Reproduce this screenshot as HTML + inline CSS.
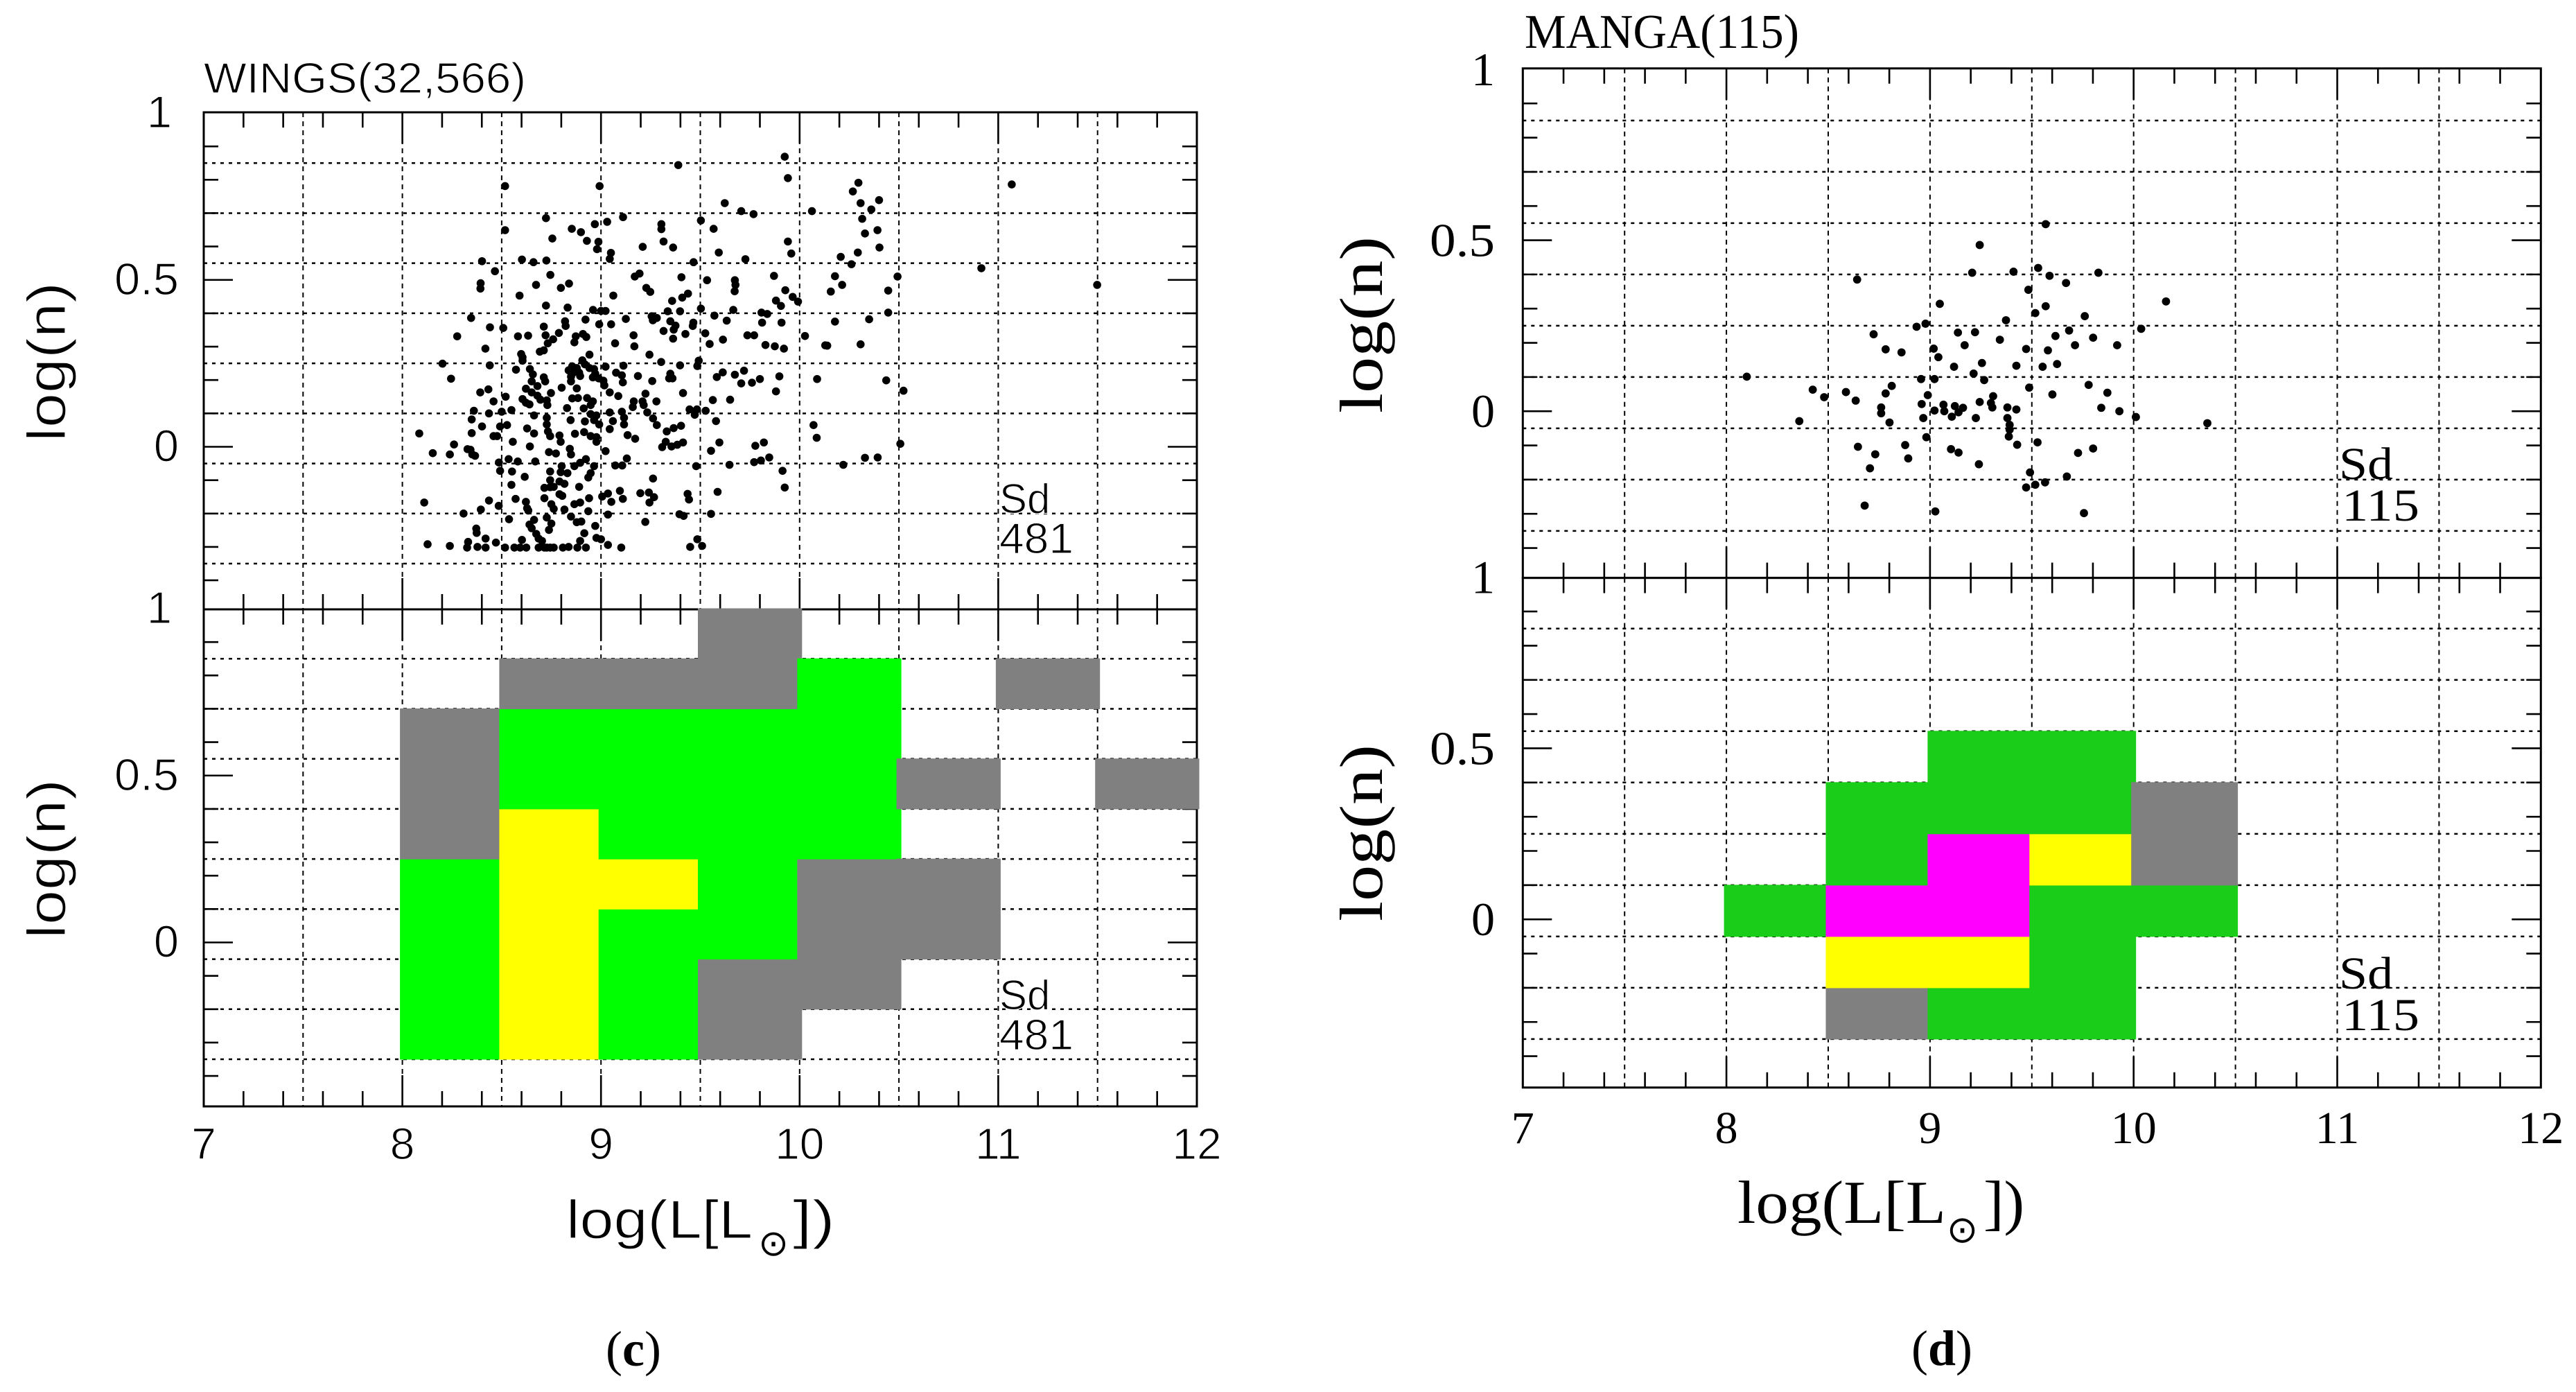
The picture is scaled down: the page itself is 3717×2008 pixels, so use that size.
<!DOCTYPE html>
<html lang="en">
<head>
<meta charset="utf-8">
<title>WINGS and MANGA log(n) vs log(L)</title>
<style>
html,body{margin:0;padding:0;background:#fff;}
svg{display:block;}
.sans{font-family:"Liberation Sans",sans-serif;fill:#000;stroke:#fff;stroke-width:1.2px;paint-order:normal;}
.serif{font-family:"Liberation Serif",serif;fill:#000;}
.sun{font-family:"DejaVu Sans",sans-serif;fill:#000;}
</style>
</head>
<body>
<svg id="figure" xmlns="http://www.w3.org/2000/svg" width="3717" height="2008" viewBox="0 0 3717 2008">
<rect x="0" y="0" width="3717" height="2008" fill="#fff"/>
<g id="marks"></g>

<text class="sans" x="294" y="134" font-size="62" textLength="465" lengthAdjust="spacingAndGlyphs">WINGS(32,566)</text>
<text class="sans" transform="translate(94,637) rotate(-90)" font-size="78" textLength="230" lengthAdjust="spacingAndGlyphs">log(n)</text>
<text class="sans" transform="translate(94,1354) rotate(-90)" font-size="78" textLength="230" lengthAdjust="spacingAndGlyphs">log(n)</text>
<text class="sans" x="1442" y="740" font-size="60">Sd</text>
<text class="sans" x="1442" y="798" font-size="62" textLength="107" lengthAdjust="spacingAndGlyphs">481</text>
<text class="sans" x="1442" y="1456" font-size="60">Sd</text>
<text class="sans" x="1442" y="1514" font-size="62" textLength="107" lengthAdjust="spacingAndGlyphs">481</text>
<g>
<text class="sans" x="817" y="1786" font-size="78" textLength="269" lengthAdjust="spacingAndGlyphs">log(L[L</text>
<text class="sun" x="1116" y="1811" font-size="52" text-anchor="middle">⊙</text>
<text class="sans" x="1144" y="1786" font-size="78" textLength="61" lengthAdjust="spacingAndGlyphs">])</text>
</g>

<text class="serif" x="2200" y="69" font-size="70" textLength="396" lengthAdjust="spacingAndGlyphs">MANGA(115)</text>
<text class="serif" transform="translate(1994,596) rotate(-90)" font-size="88" textLength="255" lengthAdjust="spacingAndGlyphs">log(n)</text>
<text class="serif" transform="translate(1994,1329) rotate(-90)" font-size="88" textLength="255" lengthAdjust="spacingAndGlyphs">log(n)</text>
<text class="serif" x="3375" y="691" font-size="66" textLength="78" lengthAdjust="spacingAndGlyphs">Sd</text>
<text class="serif" x="3379" y="751" font-size="66" textLength="112" lengthAdjust="spacingAndGlyphs">115</text>
<text class="serif" x="3375" y="1426" font-size="66" textLength="78" lengthAdjust="spacingAndGlyphs">Sd</text>
<text class="serif" x="3379" y="1486" font-size="66" textLength="112" lengthAdjust="spacingAndGlyphs">115</text>
<g>
<text class="serif" x="2507" y="1764" font-size="88" textLength="301" lengthAdjust="spacingAndGlyphs">log(L[L</text>
<text class="sun" x="2831.5" y="1792" font-size="54" text-anchor="middle">⊙</text>
<text class="serif" x="2862" y="1764" font-size="88" textLength="59" lengthAdjust="spacingAndGlyphs">])</text>
</g>

<text class="serif" x="874" y="1970" font-size="72">(<tspan font-weight="bold">c</tspan>)</text>
<text class="serif" x="2758" y="1969" font-size="72">(<tspan font-weight="bold">d</tspan>)</text>
</svg>

<script>
const xTickLabels = ['7', '8', '9', '10', '11', '12'];
const yTickLabels = ['1', '0.5', '0'];
const gridRowEdges = [0.85, 0.7, 0.55, 0.4, 0.25, 0.1, -0.05, -0.2, -0.35];
const gridColumnEdges = [7.5, 8, 8.5, 9, 9.5, 10, 10.5, 11, 11.5];

const wingsPoints = [
[8.517,.781],[8.993,.781],[9.389,.844],[9.925,.869],[9.941,.805],[9.623,.73],[9.706,.706],[9.768,.697],[10.062,.706],[8.723,.685],
[9.031,.674],[8.969,.667],[9.111,.688],[8.853,.653],[8.899,.643],[8.517,.649],[8.755,.624],[9.304,.667],[9.304,.652],[9.503,.678],
[9.567,.653],[8.929,.617],[8.987,.614],[8.98,.592],[9.315,.615],[9.21,.599],[9.363,.597],[9.941,.615],[9.958,.579],[9.593,.582],
[9.05,.581],[9.044,.563],[8.401,.556],[8.602,.561],[8.66,.553],[8.725,.558],[9.466,.553],[9.727,.562],[8.466,.526],[8.745,.515],
[9.194,.519],[9.17,.51],[9.405,.508],[9.534,.499],[9.674,.499],[9.871,.512],[9.677,.485],[8.394,.49],[8.393,.474],[8.839,.489],
[8.673,.485],[8.798,.476],[9.228,.476],[9.248,.464],[9.673,.466],[9.928,.469],[9.438,.459],[9.409,.447],[8.59,.453],[9.062,.453],
[9.965,.449],[9.992,.435],[9.881,.438],[9.358,.437],[10.157,.465],[8.723,.423],[8.832,.417],[9.906,.422],[9.503,.414],[9.666,.41],
[8.96,.41],[9.0,.407],[9.023,.407],[9.336,.406],[9.398,.406],[9.808,.402],[9.837,.398],[9.571,.393],[8.346,.386],[9.255,.391],
[9.281,.386],[9.261,.379],[9.125,.383],[9.633,.378],[8.922,.381],[8.819,.376],[9.349,.376],[9.465,.372],[9.811,.372],[9.909,.372],
[8.991,.367],[9.051,.367],[9.375,.363],[9.462,.362],[8.441,.358],[8.508,.356],[8.712,.36],[8.822,.362],[9.366,.351],[9.315,.347],
[9.425,.338],[9.525,.34],[8.909,.338],[8.788,.341],[8.276,.331],[8.582,.331],[8.633,.333],[8.721,.334],[8.873,.331],[8.926,.329],
[9.164,.334],[9.737,.334],[9.771,.334],[10.027,.332],[8.759,.322],[8.866,.313],[8.732,.31],[9.071,.31],[9.363,.324],[9.614,.321],
[9.168,.301],[9.547,.308],[9.828,.305],[9.875,.301],[9.921,.294],[10.139,.303],[8.418,.294],[8.712,.289],[8.692,.285],[9.244,.276],
[8.598,.278],[8.605,.268],[8.942,.276],[8.605,.258],[8.906,.259],[8.202,.249],[8.44,.244],[9.303,.254],[9.398,.244],[9.492,.258],
[9.485,.242],[9.613,.223],[9.583,.209],[9.72,.228],[9.674,.216],[9.898,.211],[9.8,.203],[9.76,.192],[9.706,.19],[10.088,.203],
[9.881,.166],[9.563,.14],[9.65,.141],[9.446,.112],[9.483,.112],[9.472,.096],[9.527,.108],[9.579,.077],[10.07,.065],[10.086,.027],
[9.596,.013],[9.554,-.012],[9.82,.013],[9.777,.003],[9.847,-.032],[9.805,-.041],[9.771,-.046],[9.479,-.058],[9.647,-.054],[9.914,-.072],
[9.925,-.122],[9.587,-.135],[9.554,-.201],[9.395,-.202],[9.416,-.207],[9.485,-.277],[9.449,-.3],[9.509,-.297],[9.436,-.141],[9.443,-.158],
[11.068,.786],[10.915,.535],[11.498,.485],[10.523,.168],[10.436,.199],[10.507,.009],[10.393,-.032],[10.329,-.033],[10.22,-.054],[10.493,.51],
[10.446,.468],[10.446,.402],[10.35,.382],[10.307,.307],[10.178,.375],[10.129,.304],[10.207,.569],[10.261,.547],[10.293,.582],[10.178,.511],
[10.214,.485],[10.402,.597],[10.392,.649],[10.329,.639],[10.315,.683],[10.361,.711],[10.4,.739],[10.307,.73],[10.268,.765],[10.296,.791],
[8.085,.04],[8.153,-.019],[8.239,-.023],[8.26,.007],[8.328,-.007],[8.352,-.023],[8.11,-.167],[8.127,-.292],[8.239,-.297],[8.245,.204],
[8.837,.229],[8.855,.241],[8.878,.236],[8.86,.222],[8.89,.222],[8.849,.21],[8.895,.212],[8.849,.196],[8.919,.247],[8.942,.236],
[8.965,.233],[8.971,.219],[8.959,.208],[8.988,.205],[9.012,.198],[9.017,.184],[9.023,.24],[9.044,.163],[9.087,.152],[9.076,.222],
[9.105,.214],[9.11,.193],[9.113,.243],[9.186,.212],[9.258,.197],[9.349,.219],[9.343,.205],[9.36,.205],[9.413,.161],[9.279,.136],
[9.224,.159],[9.209,.136],[9.215,.125],[9.165,.136],[9.16,.119],[8.572,.231],[8.642,.233],[8.657,.217],[8.712,.208],[8.719,.196],
[8.651,.196],[8.68,.182],[8.622,.174],[8.651,.163],[8.68,.153],[8.695,.141],[8.727,.139],[8.748,.161],[8.605,.143],[8.622,.132],
[8.64,.127],[8.73,.125],[8.802,.177],[8.878,.175],[8.52,.15],[8.459,.136],[8.392,.163],[8.433,.172],[8.855,.145],[8.884,.146],
[8.93,.146],[8.959,.136],[8.913,.115],[8.948,.125],[8.829,.116],[8.36,.108],[8.349,.082],[8.436,.1],[8.5,.105],[8.549,.11],
[8.663,.094],[8.401,.061],[8.492,.061],[8.527,.065],[8.349,.041],[8.477,.032],[8.459,.032],[8.556,.015],[8.628,.055],[8.663,.04],
[8.727,.087],[8.727,.067],[8.733,.046],[8.744,.032],[8.791,.034],[8.797,.015],[8.847,.08],[8.869,.039],[8.915,.044],[8.948,.032],
[8.977,.029],[8.977,.015],[8.919,.076],[8.948,.098],[8.977,.094],[8.965,.08],[8.991,.067],[9.044,.103],[9.06,.077],[9.044,.053],
[9.105,.105],[9.116,.087],[9.116,.067],[9.134,.035],[9.172,.024],[9.233,.103],[9.262,.085],[9.281,.065],[9.331,.046],[9.366,.056],
[9.403,.063],[9.326,.015],[9.308,-.001],[9.355,.001],[9.384,.006],[9.413,.013],
[8.343,-.009],[8.366,-.027],[8.642,.001],[8.738,-.016],[8.773,-.02],[8.843,-.006],[8.849,-.023],[9.023,-.013],[8.924,-.037],[8.895,-.048],
[8.866,-.058],[8.802,-.058],[8.797,-.076],[8.831,-.079],[8.965,-.058],[8.948,-.079],[8.936,-.092],[9.13,-.035],[9.107,-.056],[9.072,-.056],
[8.486,-.047],[8.492,-.072],[8.535,-.037],[8.581,-.044],[8.669,-.044],[8.552,-.074],[8.616,-.09],[8.744,-.074],[8.744,-.1],[8.549,-.114],
[9.262,-.095],[8.791,-.104],[8.816,-.111],[8.89,-.12],[8.715,-.123],[8.744,-.121],[8.762,-.12],[8.791,-.142],[8.805,-.147],[8.715,-.154],
[8.436,-.161],[8.57,-.156],[8.622,-.165],[8.94,-.154],[8.895,-.167],[8.866,-.172],[8.75,-.172],[8.762,-.186],[8.485,-.177],[8.395,-.188],
[8.308,-.2],[8.628,-.184],[8.634,-.191],[8.816,-.188],[8.849,-.209],[8.936,-.193],[9.035,-.203],[9.006,-.149],[9.035,-.14],[9.052,-.165],
[9.095,-.132],[9.11,-.156],[9.198,-.139],[9.241,-.137],[9.267,-.151],[9.244,-.167],[9.223,-.225],[8.537,-.217],[8.727,-.212],[8.75,-.23],
[8.738,-.249],[8.663,-.219],[8.64,-.233],[8.651,-.244],[8.674,-.261],[8.686,-.275],[8.703,-.282],[8.878,-.226],[8.901,-.224],[8.971,-.237],
[8.916,-.259],[8.977,-.273],[9.0,-.277],[8.372,-.245],[8.374,-.258],[8.419,-.275],[8.602,-.279],[8.895,-.282],[8.471,-.287],
[8.326,-.302],[8.331,-.285],[8.378,-.3],[8.419,-.302],[8.517,-.302],[8.564,-.302],[8.593,-.302],[8.624,-.302],[8.686,-.302],[8.715,-.302],
[8.744,-.302],[8.808,-.302],[8.837,-.3],[8.881,-.302],[8.924,-.302],[9.035,-.294],[9.102,-.302],[8.727,-.302],[8.762,-.302]
];

const mangaPoints = [
[9.568,.547],[9.244,.486],[9.531,.419],[9.41,.408],[9.207,.405],[9.587,.396],[9.827,.405],[8.642,.385],[9.668,.375],[9.483,.355],
[10.159,.321],[9.048,.314],[9.568,.307],[9.517,.287],[9.76,.278],[9.373,.266],[8.978,.256],[8.934,.247],[10.037,.241],[8.723,.225],
[9.137,.23],[9.221,.231],[9.683,.236],[9.616,.22],[9.801,.215],[9.343,.209],[9.17,.193],[9.712,.193],[9.919,.193],[8.782,.181],
[8.86,.172],[9.018,.183],[9.472,.182],[9.579,.178],[9.041,.158],[9.255,.141],[9.118,.13],[9.424,.133],[9.553,.13],[9.624,.138],
[9.214,.11],[8.1,.101],[8.956,.094],[9.022,.094],[9.266,.091],[9.779,.077],[9.487,.069],[8.424,.063],[8.812,.074],[8.587,.056],
[8.48,.041],[8.782,.052],[8.989,.047],[9.871,.054],[9.601,.049],[9.31,.044],[8.635,.031],[9.244,.027],[9.299,.024],[8.959,.021],
[9.066,.019],[9.122,.015],[9.306,.011],[9.38,.011],[9.841,.01],[9.424,.005],[9.162,.01],[8.76,.011],[8.76,-.006],[9.022,.002],
[9.07,0],[9.14,-.003],[9.93,0],[9.107,-.016],[8.967,-.02],[9.225,-.02],[9.38,-.02],[10.011,-.017],[8.358,-.029],[8.801,-.033],
[10.362,-.035],[9.391,-.04],[9.391,-.054],[9.387,-.074],[8.982,-.076],[9.528,-.091],[9.428,-.098],[8.878,-.099],[8.646,-.104],[9.801,-.109],
[9.103,-.111],[9.14,-.121],[9.727,-.122],[8.731,-.126],[8.893,-.138],[9.24,-.155],[8.705,-.167],[9.491,-.179],[9.672,-.191],[9.565,-.208],
[9.517,-.215],[9.472,-.223],[8.679,-.276],[9.026,-.293],[9.756,-.298]
];

/* column start, row bottom, row top, density level */
const wingsCells = [
[8,-.35,.25,'mid'],[8,.25,.7,'low'],
[8.5,-.35,.4,'high'],[8.5,.4,.7,'mid'],[8.5,.7,.85,'low'],
[9,-.35,.1,'mid'],[9,.1,.25,'high'],[9,.25,.7,'mid'],[9,.7,.85,'low'],
[9.5,-.35,-.05,'low'],[9.5,-.05,.7,'mid'],[9.5,.7,1,'low'],
[10,-.2,.25,'low'],[10,.25,.85,'mid'],
[10.5,-.05,.25,'low'],[10.5,.4,.55,'low'],
[11,.7,.85,'low'],
[11.5,.4,.55,'low']
];
const mangaCells = [
[8,-.05,.1,'mid'],
[8.5,-.35,-.2,'low'],[8.5,-.2,-.05,'high'],[8.5,-.05,.1,'peak'],[8.5,.1,.4,'mid'],
[9,-.35,-.2,'mid'],[9,-.2,-.05,'high'],[9,-.05,.25,'peak'],[9,.25,.55,'mid'],
[9.5,-.35,.1,'mid'],[9.5,.1,.25,'high'],[9.5,.25,.55,'mid'],
[10,-.05,.1,'mid'],[10,.1,.4,'low']
];
const cellBinWidth = 0.5;

const SVGNS = 'http://www.w3.org/2000/svg';
const marksRoot = document.getElementById('marks');

function make(parent, tag, attrs) {
  const el = document.createElementNS(SVGNS, tag);
  for (const k in attrs) el.setAttribute(k, attrs[k]);
  parent.appendChild(el);
  return el;
}

function drawAxes(group, p, sy, top, bottom, name) {
  const gridH = make(group, 'g', {stroke:'#000','stroke-width':2.5,'stroke-dasharray':'5 7',fill:'none'});
  
  
  gridRowEdges.forEach(function (v) {
    const l = make(gridH, 'line', {x1:p.sx(7), x2:p.sx(12), y1:sy(v), y2:sy(v)});
    
    
  });
  const gridV = make(group, 'g', {stroke:'#000','stroke-width':2,'stroke-dasharray':'7 6',fill:'none'});
  
  
  gridColumnEdges.forEach(function (v) {
    const l = make(gridV, 'line', {x1:p.sx(v), x2:p.sx(v), y1:top, y2:bottom});
    
    
  });
  const ticks = make(group, 'g', {stroke:'#000','stroke-width':2.6,fill:'none'});
  
  
  for (let i = 0; i <= 25; i++) {
    const v = 7 + i * 0.2;
    const len = i % 5 === 0 ? 45 : 22;
    const a = make(ticks, 'line', {x1:p.sx(v), x2:p.sx(v), y1:top, y2:top + len});
    
    
    const b = make(ticks, 'line', {x1:p.sx(v), x2:p.sx(v), y1:bottom, y2:bottom - len});
    
    
  }
  for (let i = -4; i <= 9; i++) {
    const v = i / 10;
    const len = i % 5 === 0 ? 42 : 21;
    const a = make(ticks, 'line', {x1:p.sx(7), x2:p.sx(7) + len, y1:sy(v), y2:sy(v)});
    
    
    const b = make(ticks, 'line', {x1:p.sx(12), x2:p.sx(12) - len, y1:sy(v), y2:sy(v)});
    
    
  }
  const frame = make(group, 'rect', {x:p.sx(7), y:top, width:p.sx(12) - p.sx(7), height:bottom - top, fill:'none', stroke:'#000', 'stroke-width':3});
  
  
  yTickLabels.forEach(function (lab) {
    const v = parseFloat(lab);
    let x = p.yLabelX;
    if (lab === '1') x -= p.oneNudge;
    const t = make(group, 'text', {x:x, y:sy(v) + p.yLabelDrop, 'text-anchor':'end', 'font-size':p.yLabelSize, class:p.fontClass});
    if (lab === '0.5') { t.setAttribute('textLength', p.halfWidth); t.setAttribute('lengthAdjust', 'spacingAndGlyphs'); }
    t.textContent = lab;
    
    
  });
}

function drawPanel(p) {
  const upper = make(marksRoot, 'g', {});
  
  
  drawAxes(upper, p, p.syUpper, p.top, p.mid, p.name + '-scatter');
  const dots = make(upper, 'g', {fill:'#000'});
  
  
  p.points.forEach(function (pt) {
    const c = make(dots, 'circle', {cx:p.sx(pt[0]), cy:p.syUpper(pt[1]), r:p.dotRadius});
    
    
  });

  const lower = make(marksRoot, 'g', {});
  
  
  drawAxes(lower, p, p.syLower, p.mid, p.bottom, p.name + '-density');
  const cells = make(lower, 'g', {});
  
  
  p.cells.forEach(function (c) {
    const x0 = p.sx(c[0]) - 3.5;
    const x1 = p.sx(c[0] + cellBinWidth) + 3.5;
    const y0 = p.syLower(c[2]) - 0.5;
    const y1 = p.syLower(c[1]) + 0.5;
    const r = make(cells, 'rect', {x:x0, y:y0, width:x1 - x0, height:y1 - y0, fill:p.palette[c[3]]});
    
    
  });
  xTickLabels.forEach(function (lab) {
    const t = make(lower, 'text', {x:p.sx(parseFloat(lab)), y:p.xLabelY, 'text-anchor':'middle', 'font-size':p.xLabelSize, class:p.fontClass});
    t.textContent = lab;
    
    
  });
}

drawPanel({
  name:'wings', points:wingsPoints, cells:wingsCells,
  palette:{low:'#808080', mid:'#00ff00', high:'#ffff00', peak:'#ff00ff'},
  sx:function (v) { return 294 + (v - 7) * 286.6; },
  syUpper:function (v) { return 644.5 - 481.5 * v; },
  syLower:function (v) { return 1359.5 - 481.5 * v; },
  top:162, mid:879, bottom:1596, dotRadius:5.8,
  fontClass:'sans', yLabelX:258, yLabelDrop:21, yLabelSize:65, oneNudge:10, halfWidth:93,
  xLabelY:1672, xLabelSize:64
});

drawPanel({
  name:'manga', points:mangaPoints, cells:mangaCells,
  palette:{low:'#808080', mid:'#19cd19', high:'#ffff00', peak:'#ff00ff'},
  sx:function (v) { return 2197.3 + (v - 7) * 293.8; },
  syUpper:function (v) { return 593.2 - 493.3 * v; },
  syLower:function (v) { return 1326.2 - 493.5 * v; },
  top:98.7, mid:833.6, bottom:1568.8, dotRadius:5.9,
  fontClass:'serif', yLabelX:2157, yLabelDrop:23, yLabelSize:68, oneNudge:0, halfWidth:94,
  xLabelY:1649, xLabelSize:66
});
</script>
</body>
</html>
